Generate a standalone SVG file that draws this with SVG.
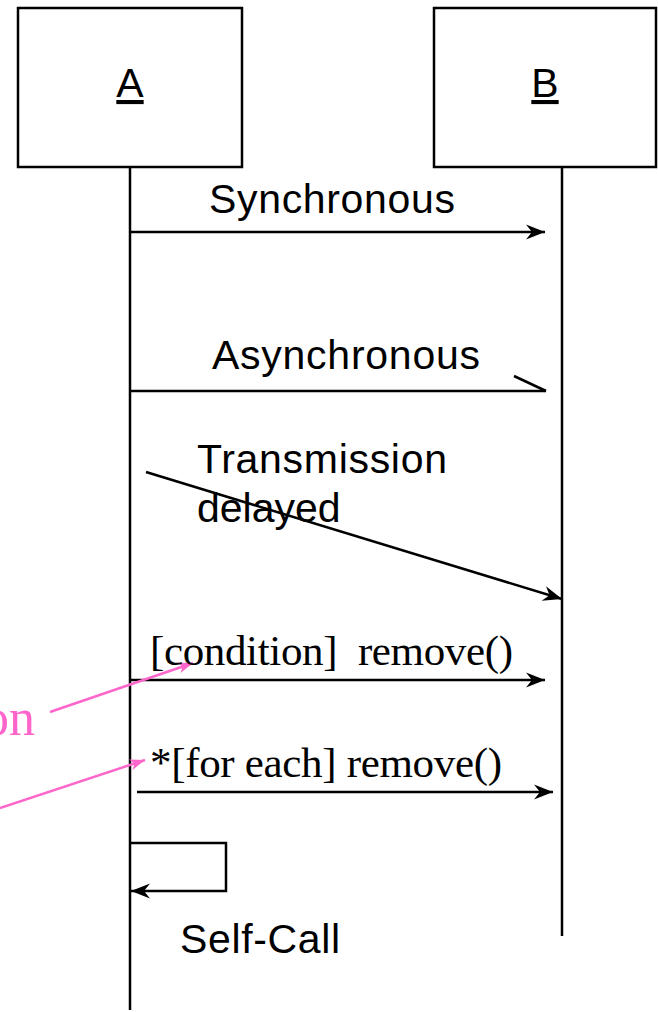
<svg xmlns="http://www.w3.org/2000/svg" width="658" height="1012" viewBox="0 0 658 1012">
<style>
.box{fill:#fff;stroke:#000;stroke-width:2.5}
.life{stroke:#000;stroke-width:2.5;fill:none}
.msg{stroke:#000;stroke-width:2.5;fill:none}
.pink{stroke:#ff66cc;stroke-width:2.5;fill:none}
.sans{font-family:"Liberation Sans",Arial,sans-serif;font-size:41px;fill:#000}
.serif{font-family:"Liberation Serif","Times New Roman",serif;font-size:43px;fill:#000}
.pinkt{font-family:"Liberation Serif","Times New Roman",serif;font-size:52px;fill:#ff66cc}
</style>
<defs>
<marker id="ah" markerUnits="userSpaceOnUse" markerWidth="22" markerHeight="18" refX="19" refY="9" orient="auto">
<path d="M0,1.5 L19,9 L0,16.5 L6,9 Z" fill="#000"/>
</marker>
<marker id="ahp" markerUnits="userSpaceOnUse" markerWidth="18" markerHeight="14" refX="15" refY="7" orient="auto">
<path d="M0,1.5 L15,7 L0,12.5 L4,7 Z" fill="#ff66cc"/>
</marker>
</defs>
<g id="lifelineA">
<rect class="box" x="18" y="8" width="224" height="159"/>
<text class="sans" x="130" y="97" text-anchor="middle" font-size="38" text-decoration="underline">A</text>
<line class="life" x1="130" y1="167" x2="130" y2="1010"/>
</g>
<g id="lifelineB">
<rect class="box" x="434" y="8" width="222" height="159"/>
<text class="sans" x="545" y="97" text-anchor="middle" font-size="38" text-decoration="underline">B</text>
<line class="life" x1="562" y1="167" x2="562" y2="936"/>
</g>
<g id="connectors">
<line class="msg" x1="130" y1="232" x2="545" y2="232" marker-end="url(#ah)"/>
<line class="msg" x1="130" y1="391" x2="546" y2="391"/>
<line class="msg" x1="514" y1="376" x2="546" y2="391"/>
<line class="msg" x1="146" y1="472" x2="562" y2="599" marker-end="url(#ah)"/>
<line class="msg" x1="130" y1="680" x2="545" y2="680" marker-end="url(#ah)"/>
<line class="msg" x1="137" y1="792" x2="553" y2="792" marker-end="url(#ah)"/>
<path class="msg" d="M130,843 H226 V891 H131" marker-end="url(#ah)"/>
<line class="pink" x1="50" y1="712" x2="193" y2="663" marker-end="url(#ahp)"/>
<line class="pink" x1="0" y1="808" x2="145" y2="760" marker-end="url(#ahp)"/>
</g>
<g id="labels">
<text class="sans" x="332" y="213" text-anchor="middle" textLength="246">Synchronous</text>
<text class="sans" x="346" y="369" text-anchor="middle" textLength="268">Asynchronous</text>
<text class="sans" x="197" y="473" textLength="250">Transmission</text>
<text class="sans" x="197" y="522">delayed</text>
<text class="serif" x="150" y="665" textLength="363" xml:space="preserve">[condition]  remove()</text>
<text class="serif" x="150" y="777" textLength="352">*[for each] remove()</text>
<text class="sans" x="180" y="953" textLength="160">Self-Call</text>
<text class="pinkt" x="35" y="735" text-anchor="end">on</text>
</g>
</svg>
